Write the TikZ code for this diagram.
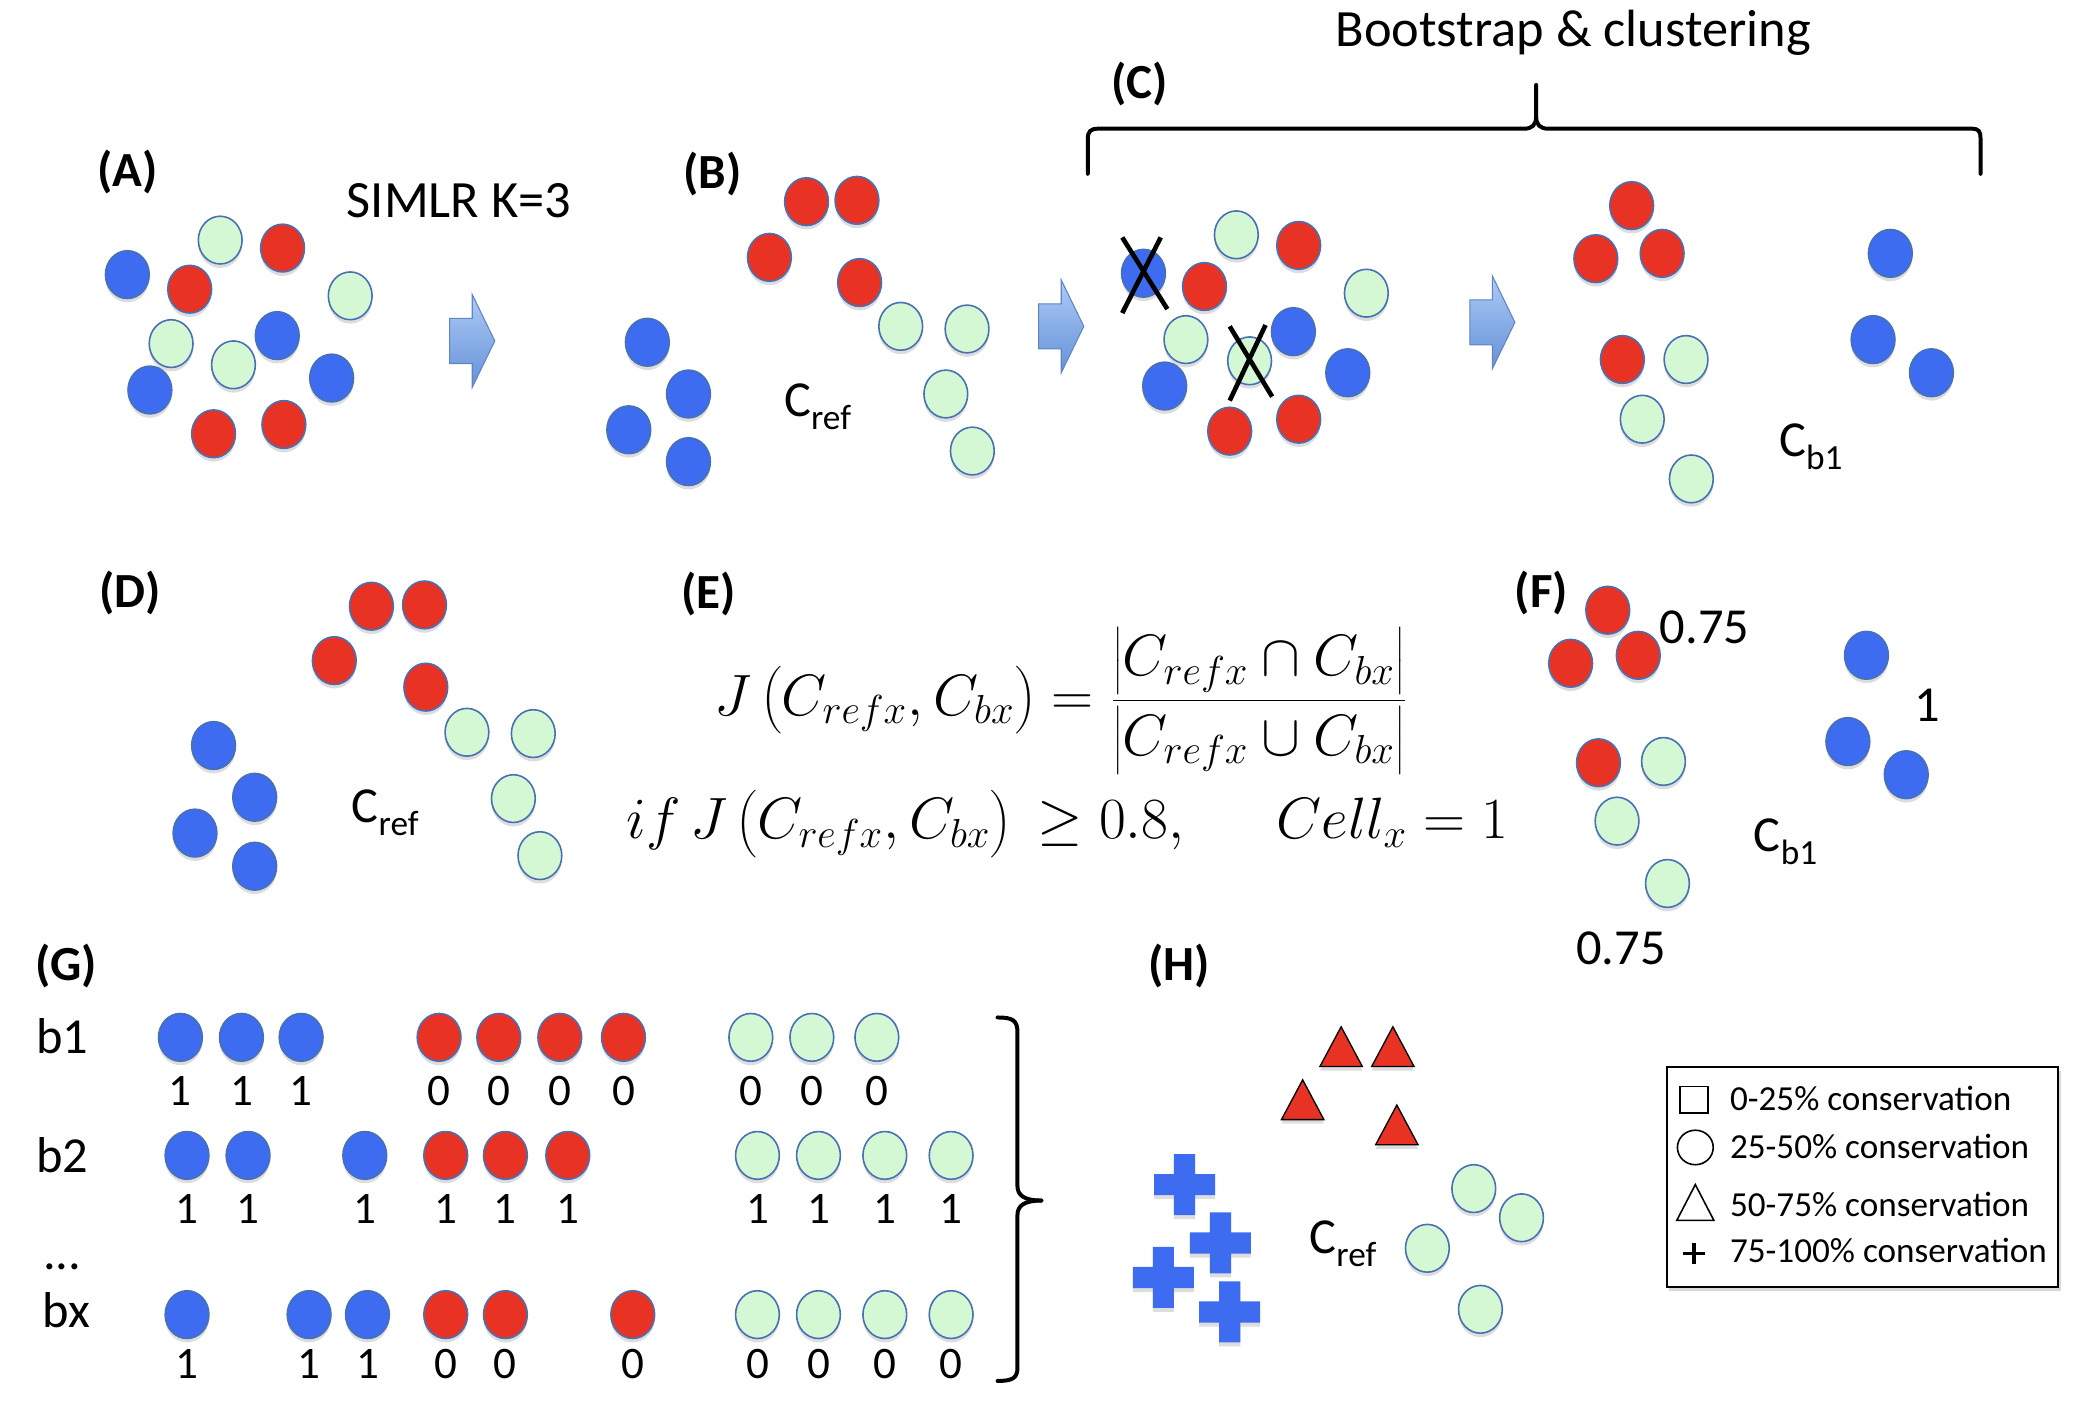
\documentclass[tikz,border=0pt]{standalone}
\usepackage[no-math]{fontspec}
\setmainfont{Carlito}
\usepackage{tikz}
\usetikzlibrary{shapes.geometric, shadows, positioning}
\definecolor{dotblue}{RGB}{62, 108, 240}
\definecolor{dotred}{RGB}{232, 50, 36}
\definecolor{dotgreen}{RGB}{212, 247, 212}
\definecolor{dotline}{RGB}{72, 112, 180}
\definecolor{arrowtop}{RGB}{172, 202, 246}
\definecolor{arrowbot}{RGB}{102, 146, 216}
\definecolor{arrowline}{RGB}{96, 132, 196}
\newcommand{\jstrut}{\rule[-7pt]{0pt}{17pt}}

\begin{document}
\begin{tikzpicture}[x=1pt, y=-1pt,
    softshadow/.style={drop shadow={shadow xshift=0pt, shadow yshift=-3pt, fill=black!60, opacity=0.22}},
    dot/.style={ellipse, minimum width=33pt, minimum height=36pt, inner sep=0pt, draw=dotline, line width=1.2pt, softshadow},
    bluedot/.style={dot, fill=dotblue},
    reddot/.style={dot, fill=dotred},
    greendot/.style={dot, fill=dotgreen},
    panel/.style={font=\fontsize{37}{44}\selectfont\bfseries, inner sep=0pt},
    txt/.style={font=\fontsize{38}{46}\selectfont, inner sep=0pt},
    title/.style={font=\fontsize{39.5}{47}\selectfont, inner sep=0pt, anchor=base},
    bit/.style={font=\fontsize{34}{40}\selectfont, inner sep=0pt, anchor=base},
    formula/.style={font=\fontsize{20.74}{25}\selectfont, inner sep=0pt, scale=2.12, transform shape},
    legtxt/.style={font=\fontsize{26.5}{31}\selectfont, inner sep=0pt, anchor=base west},
    xmark/.style={line width=3.5pt},
    brace/.style={line width=3pt, line join=round, line cap=round},
    redtri/.style={fill=dotred, draw=black, line width=1pt, softshadow},
    pics/blockarrow/.style={code={
        \shade[top color=arrowtop, bottom color=arrowbot, draw=arrowline, line width=0.8pt]
            (0,-17) -- (17,-17) -- (17,-35) -- (34,0) -- (17,35) -- (17,17) -- (0,17) -- cycle;}},
    pics/bluecross/.style={code={
        \fill[dotblue, softshadow] (-8,-23) -- (8,-23) -- (8,-8) -- (23,-8) -- (23,8) -- (8,8)
            -- (8,23) -- (-8,23) -- (-8,8) -- (-23,8) -- (-23,-8) -- (-8,-8) -- cycle;}}
]
\useasboundingbox (0,0) rectangle (1568,1061);

% Panel labels
\node[panel] (lblA) at (96,130) {(A)};
\node[panel] (lblB) at (537,131) {(B)};
\node[panel] (lblC) at (859,63) {(C)};
\node[panel] (lblD) at (98,447) {(D)};
\node[panel] (lblE) at (534,448) {(E)};
\node[panel] (lblF) at (1162,447) {(F)};
\node[panel] (lblG) at (50,728) {(G)};
\node[panel] (lblH) at (889,728) {(H)};

% (A) raw cells
\foreach \x/\y [count=\i] in {96/207, 209/253, 113/294, 250/285}
    \node[bluedot] (Ab\i) at (\x,\y) {};
\foreach \x/\y [count=\i] in {213/187, 143/218, 161/327, 214/320}
    \node[reddot] (Ar\i) at (\x,\y) {};
\foreach \x/\y [count=\i] in {166/181, 264/223, 129/259, 176/275}
    \node[greendot] (Ag\i) at (\x,\y) {};
\node[title] (simlr) at (346,164) {SIMLR K=3};
\pic at (339,257) {blockarrow};

% (B) reference clustering
\foreach \x/\y [count=\i] in {608/152, 646/151, 580/194, 648/213}
    \node[reddot] (Br\i) at (\x,\y) {};
\foreach \x/\y [count=\i] in {679/246, 729/248, 713/297, 733/340}
    \node[greendot] (Bg\i) at (\x,\y) {};
\foreach \x/\y [count=\i] in {488/258, 519/297, 474/324, 519/348}
    \node[bluedot] (Bb\i) at (\x,\y) {};
\node[txt, anchor=base west] (crefB) at (591,314) {C\textsubscript{ref}};
\pic at (783,246) {blockarrow};

% (C) bootstrap sample
\node[title] (boot) at (1186,35) {Bootstrap \& clustering};
\draw[brace] (820,131) -- (820,105) .. controls (820,99) and (822,97) .. (828,97) -- (1149,97)
    .. controls (1155,97) and (1158,94) .. (1158,88) -- (1158,64);
\draw[brace] (1158,88) .. controls (1158,94) and (1161,97) .. (1167,97) -- (1486,97)
    .. controls (1492,97) and (1493,99) .. (1493,105) -- (1493,131);
\foreach \x/\y [count=\i] in {862/206, 975/250, 1016/281, 878/291}
    \node[bluedot] (Cb\i) at (\x,\y) {};
\foreach \x/\y [count=\i] in {979/185, 908/216, 927/325, 979/316}
    \node[reddot] (Cr\i) at (\x,\y) {};
\foreach \x/\y [count=\i] in {932/177, 1030/221, 894/256, 942/272}
    \node[greendot] (Cg\i) at (\x,\y) {};
\draw[xmark] (846,179) -- (880,233);
\draw[xmark] (875,179) -- (846,236);
\draw[xmark] (927,246) -- (959,299);
\draw[xmark] (954,245) -- (927,302);
\pic at (1108,243) {blockarrow};

% bootstrap clustering
\foreach \x/\y [count=\i] in {1230/155, 1203/195, 1253/191, 1223/271}
    \node[reddot] (Kr\i) at (\x,\y) {};
\foreach \x/\y [count=\i] in {1271/271, 1238/316, 1275/361}
    \node[greendot] (Kg\i) at (\x,\y) {};
\foreach \x/\y [count=\i] in {1425/191, 1412/256, 1456/281}
    \node[bluedot] (Kb\i) at (\x,\y) {};
\node[txt, anchor=base west] (cbC) at (1341,344) {C\textsubscript{b1}};

% (D) reference again
\foreach \x/\y [count=\i] in {280/457, 320/456, 252/498, 321/518}
    \node[reddot] (Dr\i) at (\x,\y) {};
\foreach \x/\y [count=\i] in {352/552, 402/553, 387/602, 407/645}
    \node[greendot] (Dg\i) at (\x,\y) {};
\foreach \x/\y [count=\i] in {161/562, 192/601, 147/628, 192/653}
    \node[bluedot] (Db\i) at (\x,\y) {};
\node[txt, anchor=base west] (crefD) at (265,620) {C\textsubscript{ref}};

% (E) Jaccard index
\node[formula, anchor=base] (jacc) at (800,539)
    {$\displaystyle J\left(\jstrut C_{refx},C_{bx}\right)=\frac{\left|\jstrut C_{refx}\cap C_{bx}\right|}{\left|\jstrut C_{refx}\cup C_{bx}\right|}$};
\node[formula, anchor=base west] (cond) at (472,632) {$if\,J\left(\jstrut C_{refx},C_{bx}\right)\,\geq 0.8,$};
\node[formula, anchor=base west] (cellx) at (962,632) {$Cell_x=1$};

% (F) scores
\foreach \x/\y [count=\i] in {1212/460, 1184/500, 1235/494, 1205/575}
    \node[reddot] (Fr\i) at (\x,\y) {};
\foreach \x/\y [count=\i] in {1254/574, 1219/619, 1257/666}
    \node[greendot] (Fg\i) at (\x,\y) {};
\foreach \x/\y [count=\i] in {1407/494, 1393/559, 1437/584}
    \node[bluedot] (Fb\i) at (\x,\y) {};
\node[txt, anchor=base] (fred) at (1285,485) {0.75};
\node[txt, anchor=base] (fblue) at (1453,544) {1};
\node[txt, anchor=base] (fgreen) at (1222,727) {0.75};
\node[txt, anchor=base west] (cbF) at (1322,642) {C\textsubscript{b1}};

% (G) per-cell bits
\node[txt, anchor=base] (rowb1) at (47,794) {b1};
\node[txt, anchor=base] (rowb2) at (47,884) {b2};
\node[txt, anchor=base] (rowdots) at (47,957) {...};
\node[txt, anchor=base] (rowbx) at (50,1001) {bx};
\foreach \x/\s/\v [count=\i] in {136/bluedot/1, 182/bluedot/1, 227/bluedot/1, 331/reddot/0, 376/reddot/0,
        422/reddot/0, 470/reddot/0, 566/greendot/0, 612/greendot/0, 661/greendot/0} {
    \node[style=\s] (G1c\i) at (\x,782) {};
    \node[bit] (G1v\i) at (\x,833) {\v};
}
\foreach \x/\s/\v [count=\i] in {141/bluedot/1, 187/bluedot/1, 275/bluedot/1, 336/reddot/1, 381/reddot/1,
        428/reddot/1, 571/greendot/1, 617/greendot/1, 667/greendot/1, 717/greendot/1} {
    \node[style=\s] (G2c\i) at (\x,871) {};
    \node[bit] (G2v\i) at (\x,922) {\v};
}
\foreach \x/\s/\v [count=\i] in {141/bluedot/1, 233/bluedot/1, 277/bluedot/1, 336/reddot/0, 381/reddot/0,
        477/reddot/0, 571/greendot/0, 617/greendot/0, 667/greendot/0, 717/greendot/0} {
    \node[style=\s] (G3c\i) at (\x,991) {};
    \node[bit] (G3v\i) at (\x,1039) {\v};
}
\draw[brace] (752,767) .. controls (763,767) and (767,769) .. (767,778) -- (767,894)
    .. controls (767,901) and (772,905) .. (785,905);
\draw[brace] (785,905) .. controls (772,905) and (767,909) .. (767,916) -- (767,1031)
    .. controls (767,1039) and (763,1041) .. (752,1041);

% (H) conservation
\foreach \x/\y in {1011/774, 1050/774, 982/814, 1053/833}
    \filldraw[redtri] (\x,\y) -- ++(-16,30) -- ++(32,0) -- cycle;
\foreach \x/\y in {893/893, 920/937, 877/963, 927/989}
    \pic at (\x,\y) {bluecross};
\foreach \x/\y [count=\i] in {1111/896, 1147/918, 1076/941, 1116/987}
    \node[greendot] (Hg\i) at (\x,\y) {};
\node[txt, anchor=base west] (crefH) at (987,945) {C\textsubscript{ref}};

% legend
\node[draw, line width=1.5pt, fill=white, minimum width=295pt, minimum height=166pt,
    drop shadow={shadow xshift=2pt, shadow yshift=-3pt, fill=black!60, opacity=0.25}] (legend) at (1404,887) {};
\node[draw, line width=1.2pt, minimum width=21pt, minimum height=20pt, inner sep=0pt] (legsq) at (1277,829) {};
\node[draw, ellipse, line width=1.2pt, minimum width=27pt, minimum height=26pt, inner sep=0pt] (legci) at (1278,865) {};
\draw[line width=1.2pt, line join=miter] (1278,893) -- (1292,920) -- (1264,920) -- cycle;
\draw[line width=2.5pt] (1269,945) -- (1285,945) (1277,937) -- (1277,953);
\node[legtxt] (leg1) at (1304,837) {0-25\% conservation};
\node[legtxt] (leg2) at (1304,873) {25-50\% conservation};
\node[legtxt] (leg3) at (1304,917) {50-75\% conservation};
\node[legtxt] (leg4) at (1304,952) {75-100\% conservation};
\end{tikzpicture}
\end{document}
